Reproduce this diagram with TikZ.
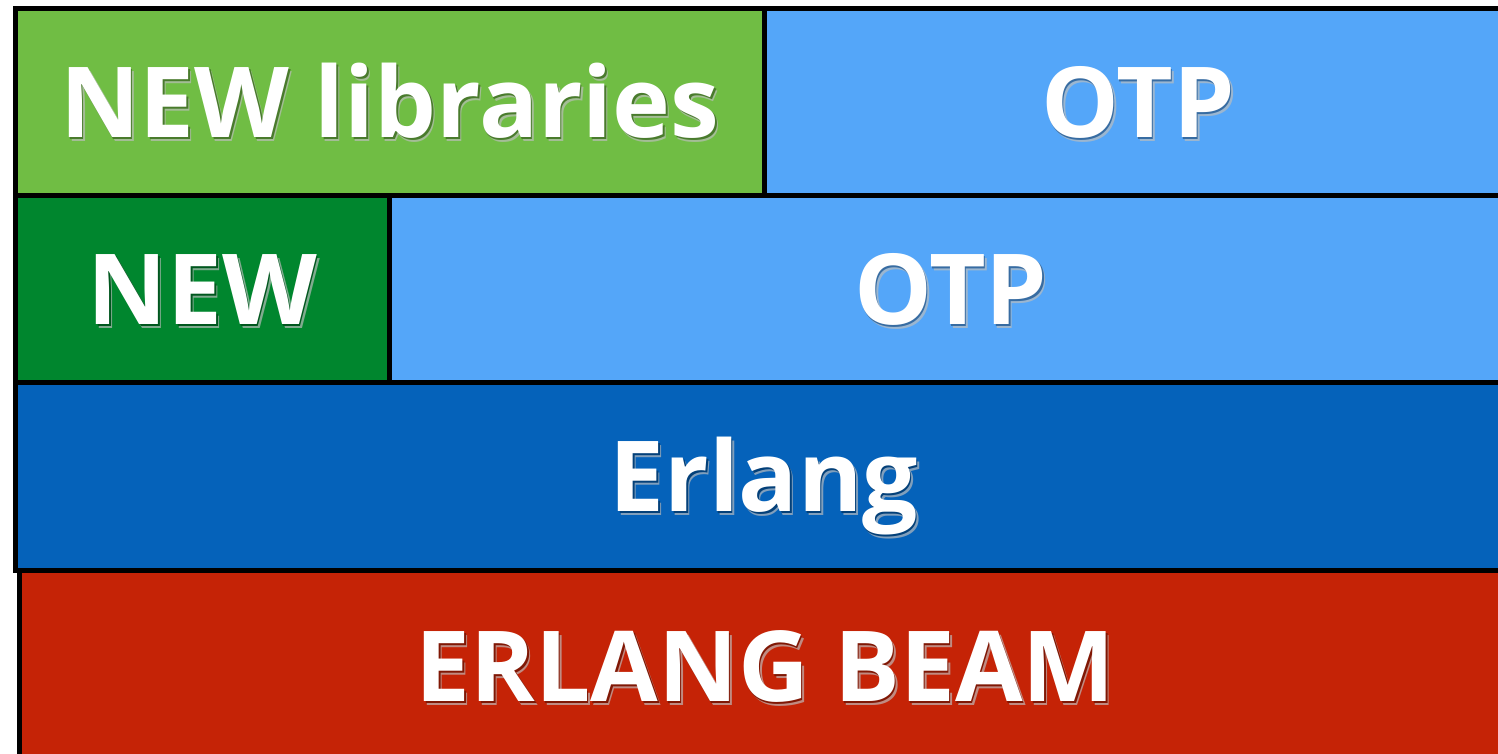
\documentclass[tikz,border=0pt]{standalone}
\usepackage{fontspec}
\newfontfamily\layerfont{Open Sans}
\usetikzlibrary{positioning}

\definecolor{libgreen}{RGB}{112,189,68}
\definecolor{newgreen}{RGB}{0,134,46}
\definecolor{otpblue}{RGB}{84,166,249}
\definecolor{erlblue}{RGB}{5,98,186}
\definecolor{beamred}{RGB}{197,35,6}

% white label with a soft drop shadow under it
\newcommand{\dropsh}[1]{%
  \rlap{\kern3pt\raisebox{-4pt}{\color{shcol!50}#1}}%
  \rlap{\kern1.5pt\raisebox{-2pt}{\color{shcol}#1}}#1}

\begin{document}
\begin{tikzpicture}[
    x=1pt, y=-1pt,
    layer/.style={draw=black, line width=5pt, fill=#1, outer sep=0pt, inner sep=0pt,
                  anchor=north west, text=white, text height=70pt, text depth=0pt,
                  font=\layerfont\bfseries\fontsize{98pt}{110pt}\selectfont,
                  execute at begin node={\colorlet{shcol}{#1!65!black}}}
]
    \clip (0,0) rectangle (1498,754);

    \node[layer=libgreen, minimum width=748.5pt, minimum height=186.5pt] (libs) at (15.5,9) {\dropsh{NEW libraries}};
    \node[layer=otpblue, minimum width=748pt, minimum height=186.5pt, right=0pt of libs] (otp1) {\dropsh{OTP}};

    \node[layer=newgreen, minimum width=374pt, minimum height=187pt, below right=0pt and 0pt of libs.south west] (new) {\dropsh{NEW}};
    \node[layer=otpblue, minimum width=1122.5pt, minimum height=187pt, right=0pt of new] (otp2) {\dropsh{OTP}};

    \node[layer=erlblue, minimum width=1496.5pt, minimum height=187.5pt, below right=0pt and 0pt of new.south west] (erl) {\dropsh{Erlang}};

    \node[layer=beamred, minimum width=1493pt, minimum height=192pt] (beam) at (19,570) {\dropsh{ERLANG BEAM}};
\end{tikzpicture}
\end{document}
